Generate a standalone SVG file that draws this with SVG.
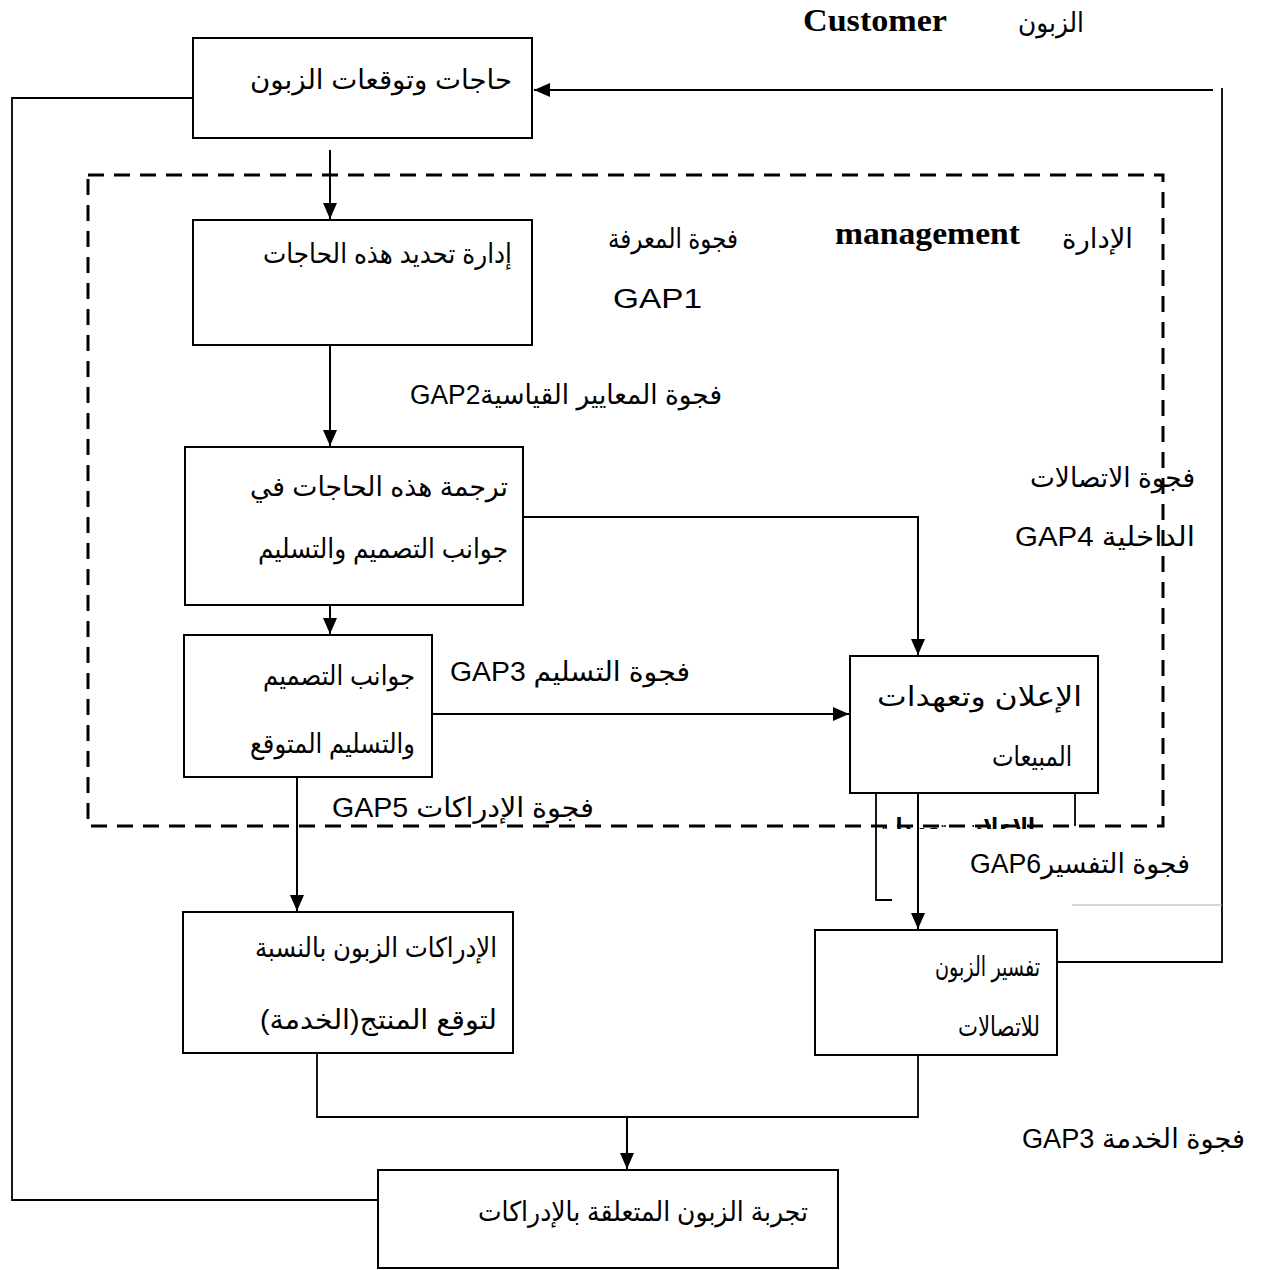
<svg xmlns="http://www.w3.org/2000/svg" width="1263" height="1270" viewBox="0 0 1263 1270">
  <style>
    .box { fill: #fff; stroke: #000; stroke-width: 2; }
    .ar { font-family: "Liberation Sans", "DejaVu Sans", sans-serif; font-size: 27px; fill: #000; }
    .gap { font-family: "Liberation Sans", "DejaVu Sans", sans-serif; font-size: 27px; fill: #000; }
    .en { font-family: "Liberation Serif", serif; font-weight: bold; font-size: 31px; fill: #000; }
    .wire { fill: none; stroke: #000; stroke-width: 2; }
    .thin { fill: none; stroke: #000; stroke-width: 1.8; }
    .frame { fill: none; stroke: #000; stroke-width: 3; stroke-dasharray: 16 10; }
  </style>
  <defs>
    <marker id="arrow" markerUnits="userSpaceOnUse" markerWidth="16" markerHeight="14" refX="16" refY="7" orient="auto">
      <path d="M0,0 L16,7 L0,14 Z" fill="#000"/>
    </marker>
    <clipPath id="cut">
      <rect x="860" y="813" width="200" height="16"/>
    </clipPath>
  </defs>

  <rect width="1263" height="1270" fill="#fff"/>

  <!-- management boundary -->
  <rect class="frame" x="88" y="175" width="1075" height="651"/>

  <!-- headings and gap labels -->
  <g id="labels">
    <text class="en" x="803" y="31" textLength="144" lengthAdjust="spacingAndGlyphs">Customer</text>
    <text class="ar" x="1084" y="32" direction="rtl" text-anchor="start" textLength="66" lengthAdjust="spacingAndGlyphs">الزبون</text>
    <text class="en" x="835" y="244" textLength="185" lengthAdjust="spacingAndGlyphs">management</text>
    <text class="ar" x="1133" y="248" direction="rtl" text-anchor="start" textLength="71" lengthAdjust="spacingAndGlyphs">الإدارة</text>
    <text class="ar" x="738" y="248" direction="rtl" text-anchor="start" textLength="130" lengthAdjust="spacingAndGlyphs">فجوة المعرفة</text>
    <text class="gap" x="613" y="308" textLength="89" lengthAdjust="spacingAndGlyphs">GAP1</text>
    <text class="gap" x="722" y="404" direction="rtl" text-anchor="start" textLength="312" lengthAdjust="spacingAndGlyphs">فجوة المعايير القياسيةGAP2</text>
    <text class="gap" x="1195" y="487" direction="rtl" text-anchor="start" textLength="165" lengthAdjust="spacingAndGlyphs">فجوة الاتصالات</text>
    <text class="gap" x="1195" y="546" direction="rtl" text-anchor="start" textLength="180" lengthAdjust="spacingAndGlyphs">الداخلية GAP4</text>
    <text class="gap" x="690" y="681" direction="rtl" text-anchor="start" textLength="240" lengthAdjust="spacingAndGlyphs">فجوة التسليم GAP3</text>
    <text class="gap" x="594" y="817" direction="rtl" text-anchor="start" textLength="262" lengthAdjust="spacingAndGlyphs">فجوة الإدراكات GAP5</text>
    <text class="gap" x="1190" y="873" direction="rtl" text-anchor="start" textLength="220" lengthAdjust="spacingAndGlyphs">فجوة التفسيرGAP6</text>
    <text class="gap" x="1245" y="1148" direction="rtl" text-anchor="start" textLength="223" lengthAdjust="spacingAndGlyphs">فجوة الخدمة GAP3</text>
  </g>

  <!-- connectors -->
  <g id="connectors">
    <path class="thin" d="M1213,90 H534" marker-end="url(#arrow)"/>
    <path class="thin" d="M1222,88 V962 H1057"/>
    <path class="thin" d="M193,98 H12 V1200 H378"/>
    <path class="wire" d="M330,150 V219" marker-end="url(#arrow)"/>
    <path class="wire" d="M330,345 V446" marker-end="url(#arrow)"/>
    <path class="wire" d="M523,517 H918 V655" marker-end="url(#arrow)"/>
    <path class="wire" d="M330,605 V634" marker-end="url(#arrow)"/>
    <path class="wire" d="M432,714 H849" marker-end="url(#arrow)"/>
    <path class="wire" d="M297,777 V911" marker-end="url(#arrow)"/>
    <path class="wire" d="M918,793 V929" marker-end="url(#arrow)"/>
    <path class="thin" d="M876,793 V900 H892"/>
    <path class="thin" d="M1075,793 V826"/>
    <path class="thin" d="M317,1053 V1117 H918 V1055"/>
    <path class="wire" d="M627,1117 V1169" marker-end="url(#arrow)"/>
    <path d="M1072,905 H1222" stroke="#aaa" stroke-width="1" fill="none"/>
  </g>

  <g id="needs">
    <rect class="box" x="193" y="38" width="339" height="100"/>
    <text class="ar" x="512" y="89" direction="rtl" text-anchor="start" textLength="262" lengthAdjust="spacingAndGlyphs">حاجات وتوقعات الزبون</text>
  </g>

  <g id="identify">
    <rect class="box" x="193" y="220" width="339" height="125"/>
    <text class="ar" x="512" y="263" direction="rtl" text-anchor="start" textLength="249" lengthAdjust="spacingAndGlyphs">إدارة تحديد هذه الحاجات</text>
  </g>

  <g id="translate">
    <rect class="box" x="185" y="447" width="338" height="158"/>
    <text class="ar" x="508" y="496" direction="rtl" text-anchor="start" textLength="258" lengthAdjust="spacingAndGlyphs">ترجمة هذه الحاجات في</text>
    <text class="ar" x="508" y="558" direction="rtl" text-anchor="start" textLength="250" lengthAdjust="spacingAndGlyphs">جوانب التصميم والتسليم</text>
  </g>

  <g id="expected">
    <rect class="box" x="184" y="635" width="248" height="142"/>
    <text class="ar" x="415" y="685" direction="rtl" text-anchor="start" textLength="152" lengthAdjust="spacingAndGlyphs">جوانب التصميم</text>
    <text class="ar" x="415" y="753" direction="rtl" text-anchor="start" textLength="165" lengthAdjust="spacingAndGlyphs">والتسليم المتوقع</text>
  </g>

  <g id="advertising">
    <rect class="box" x="850" y="656" width="248" height="137"/>
    <text class="ar" x="1082" y="706" direction="rtl" text-anchor="start" textLength="205" lengthAdjust="spacingAndGlyphs">الإعلان وتعهدات</text>
    <text class="ar" x="1072" y="766" direction="rtl" text-anchor="start" textLength="80" lengthAdjust="spacingAndGlyphs">المبيعات</text>
    <text class="ar" x="1035" y="838" direction="rtl" text-anchor="start" font-weight="bold" textLength="160" lengthAdjust="spacingAndGlyphs" clip-path="url(#cut)">الإعلان وتعهدات</text>
  </g>

  <g id="perception">
    <rect class="box" x="183" y="912" width="330" height="141"/>
    <text class="ar" x="497" y="957" direction="rtl" text-anchor="start" textLength="242" lengthAdjust="spacingAndGlyphs">الإدراكات الزبون بالنسبة</text>
    <text class="ar" x="497" y="1029" direction="rtl" text-anchor="start" textLength="237" lengthAdjust="spacingAndGlyphs">لتوقع المنتج(الخدمة)</text>
  </g>

  <g id="interpretation">
    <rect class="box" x="815" y="930" width="242" height="125"/>
    <text class="ar" x="1040" y="976" direction="rtl" text-anchor="start" textLength="105" lengthAdjust="spacingAndGlyphs">تفسير الزبون</text>
    <text class="ar" x="1040" y="1036" direction="rtl" text-anchor="start" textLength="82" lengthAdjust="spacingAndGlyphs">للاتصالات</text>
  </g>

  <g id="experience">
    <rect class="box" x="378" y="1170" width="460" height="98"/>
    <text class="ar" x="808" y="1221" direction="rtl" text-anchor="start" textLength="330" lengthAdjust="spacingAndGlyphs">تجربة الزبون المتعلقة بالإدراكات</text>
  </g>
</svg>
